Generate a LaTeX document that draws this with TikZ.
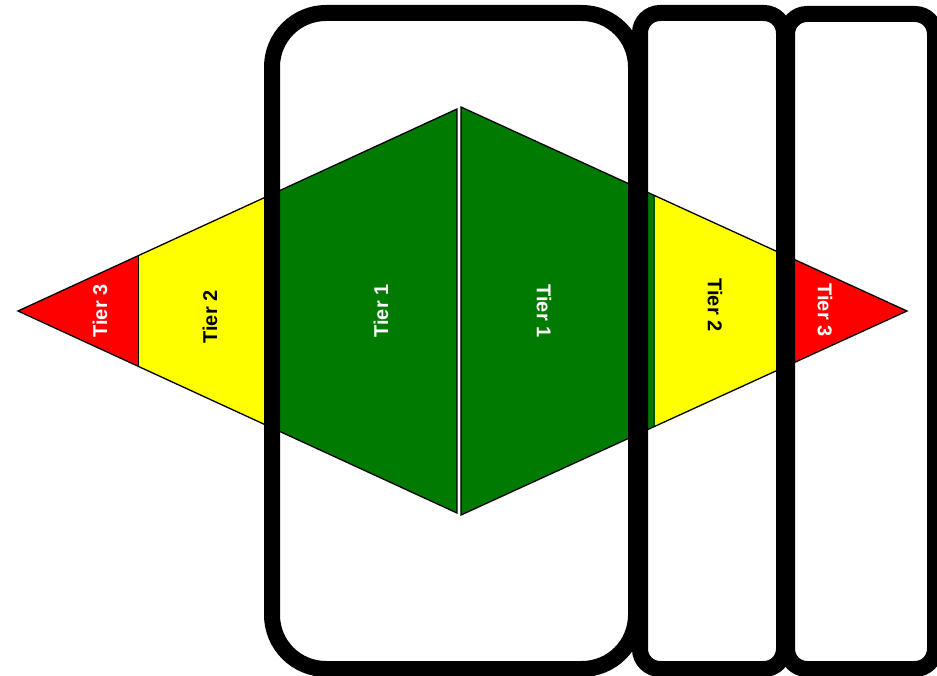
\documentclass[tikz,border=0pt]{standalone}
\usepackage{fontspec}
\setmainfont{Liberation Sans}
\definecolor{tgreen}{RGB}{0,122,0}
\definecolor{tyellow}{RGB}{255,255,0}
\definecolor{tred}{RGB}{255,0,0}
\begin{document}
\begin{tikzpicture}[x=1pt,y=-1pt,
  triedge/.style={draw=black,line width=1.3pt,line join=miter},
  lane/.style={draw=black,line width=16pt},
  lbl/.style={font=\fontsize{20}{24}\selectfont\bfseries,inner sep=0pt}]
\useasboundingbox (0,0) rectangle (937,676);
% left triangle
\coordinate (LTip) at (18,311);
\coordinate (LTop) at (457,109);
\coordinate (LBot) at (457,513);
\begin{scope}
  \clip (LTip) -- (LTop) -- (LBot) -- cycle;
  \fill[tred] (0,0) rectangle (138,676);
  \fill[tyellow] (138,0) rectangle (272,676);
  \fill[tgreen] (272,0) rectangle (457,676);
  \draw[black,line width=0.8pt] (138,0) -- (138,676);
\end{scope}
\draw[triedge] (LTip) -- (LTop) -- (LBot) -- cycle;
% right triangle
\coordinate (RTop) at (461,107);
\coordinate (RBot) at (461,515);
\coordinate (RTip) at (907,311);
\begin{scope}
  \clip (RTop) -- (RTip) -- (RBot) -- cycle;
  \fill[tgreen] (461,0) rectangle (655,676);
  \fill[tyellow] (655,0) rectangle (784,676);
  \fill[tred] (784,0) rectangle (937,676);
  \draw[tgreen!70!black,line width=2pt] (654,0) -- (654,676);
\end{scope}
\draw[triedge] (RTop) -- (RTip) -- (RBot) -- cycle;
% labels
\node[lbl,text=white,rotate=90] (l3) at (100,311) {Tier 3};
\node[lbl,text=black,rotate=90] (l2) at (210,317) {Tier 2};
\node[lbl,text=white,rotate=90] (l1) at (381,311) {Tier 1};
\node[lbl,text=white,rotate=-90] (r1) at (544,311) {Tier 1};
\node[lbl,text=black,rotate=-90] (r2) at (715,305) {Tier 2};
\node[lbl,text=white,rotate=-90] (r3) at (825,310) {Tier 3};
% lanes
\draw[lane,rounded corners=54pt] (272,13) rectangle (636,669);
\draw[lane,rounded corners=20pt] (640,13) rectangle (784,669);
\draw[lane,rounded corners=20pt] (787,14) rectangle (935,669);
\end{tikzpicture}
\end{document}
